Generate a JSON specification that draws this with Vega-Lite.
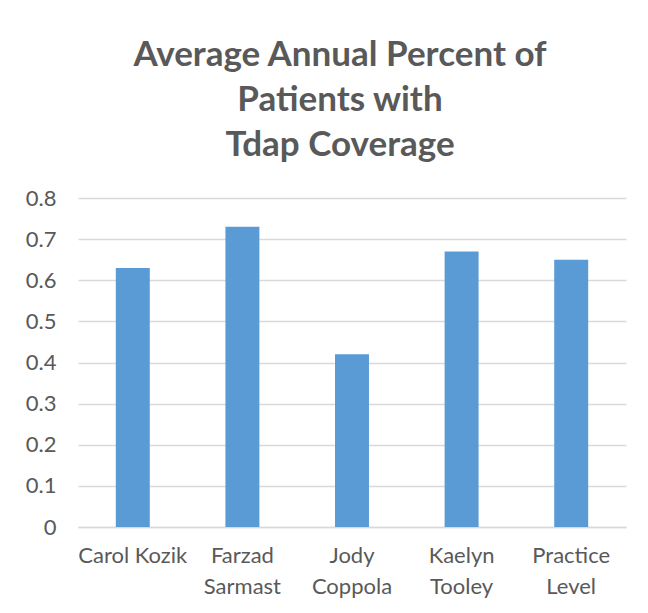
{
  "$schema": "https://vega.github.io/schema/vega-lite/v6.json",
  "width": 548,
  "height": 329,
  "autosize": {"type": "none"},
  "padding": {"left": 78, "top": 198, "right": 22, "bottom": 86},
  "background": "white",
  "title": {
    "text": ["Average Annual Percent of", "Patients with", "Tdap Coverage"],
    "font": "Lato",
    "fontSize": 35,
    "fontWeight": "bold",
    "color": "#595959",
    "lineHeight": 45,
    "anchor": "middle",
    "dx": -12,
    "offset": 24
  },
  "data": {
    "values": [
      {"name": "Carol Kozik", "value": 0.63},
      {"name": "Farzad Sarmast", "value": 0.73},
      {"name": "Jody Coppola", "value": 0.42},
      {"name": "Kaelyn Tooley", "value": 0.67},
      {"name": "Practice Level", "value": 0.65}
    ]
  },
  "mark": {"type": "bar", "color": "#5B9BD5", "width": {"band": 0.31}},
  "encoding": {
    "x": {
      "field": "name",
      "type": "nominal",
      "sort": null,
      "scale": {"paddingInner": 0, "paddingOuter": 0},
      "axis": {
        "title": null,
        "labelAngle": 0,
        "labelExpr": "datum.label == 'Carol Kozik' ? datum.label : split(datum.label, ' ')",
        "labelFont": "Lato",
        "labelFontSize": 22,
        "labelColor": "#595959",
        "labelLineHeight": 31,
        "labelPadding": 18,
        "labelBaseline": "top",
        "ticks": false,
        "domainColor": "#d9d9d9",
        "domainWidth": 1.5,
        "grid": false
      }
    },
    "y": {
      "field": "value",
      "type": "quantitative",
      "scale": {"domain": [0, 0.8], "nice": false},
      "axis": {
        "title": null,
        "values": [0, 0.1, 0.2, 0.3, 0.4, 0.5, 0.6, 0.7, 0.8],
        "format": ".1~f",
        "labelFont": "Lato",
        "labelFontSize": 22,
        "labelColor": "#595959",
        "labelPadding": 22,
        "ticks": false,
        "domain": false,
        "grid": true,
        "gridColor": "#d9d9d9",
        "gridWidth": 1.5
      }
    }
  },
  "config": {
    "view": {"stroke": null}
  }
}
